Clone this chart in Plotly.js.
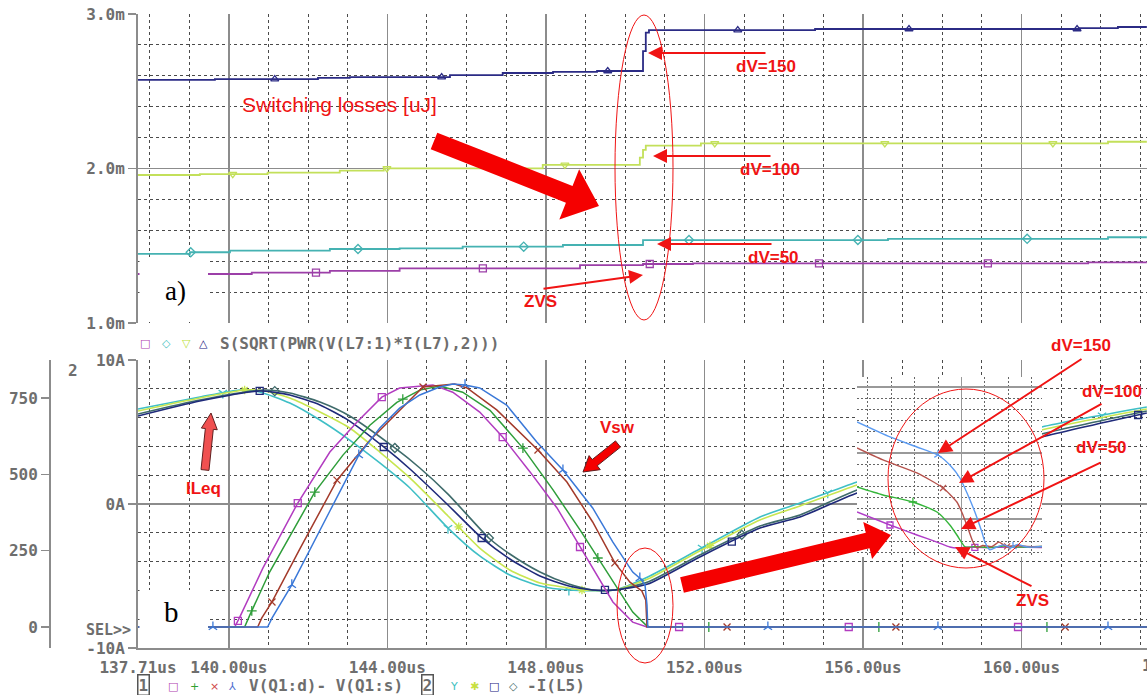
<!DOCTYPE html>
<html><head><meta charset="utf-8">
<script src="https://cdn.plot.ly/plotly-3.0.1.min.js"></script>
<style>html,body{margin:0;padding:0;background:#fff}#chart{width:1147px;height:695px}</style>
</head><body><div id="chart"></div>
<script>
// ---------------- DATA ----------------
// shared time axis (us)
const xTickVals = [137.71, 140, 144, 148, 152, 156, 160];
const topYTicks = [1, 2, 3];                 // mJ
const curTicks = [-10, 0, 10];               // A
const voltTicks = [0, 250, 500, 750];        // V

// a) switching losses, step traces S(SQRT(PWR(V(L7:1)*I(L7),2)))
const lossNavyT = [137.71,139.65,142.25,143.05,145.58,146.91,148.18,149.29,150.45,150.52,150.60,154.79,161.47,162.43,163.16];
const lossNavyV = [2.573,2.579,2.586,2.592,2.605,2.618,2.625,2.631,2.76,2.88,2.896,2.903,2.909,2.916,2.916];
const lossYelT  = [137.71,139.27,140.98,142.80,143.91,147.92,150.37,150.45,150.52,151.91,162.18,163.16];
const lossYelV  = [1.958,1.964,1.973,1.986,2.001,2.023,2.07,2.12,2.148,2.163,2.173,2.173];
const lossTealT = [137.71,139.02,140.03,142.55,144.31,145.90,148.43,150.45,156.63,162.18,163.16];
const lossTealV = [1.447,1.458,1.468,1.479,1.483,1.494,1.505,1.537,1.545,1.555,1.555];
const lossPurT  = [137.71,140.58,142.55,144.31,148.86,150.45,151.71,161.68,163.16];
const lossPurV  = [1.317,1.326,1.338,1.354,1.375,1.382,1.386,1.393,1.393];
// marker times
const mkNavyT = [141.16,145.37,149.56,152.84,157.16,161.40];
const mkYelT  = [140.10,143.99,148.48,152.26,156.55,160.79];
const mkTealT = [139.04,143.26,147.44,151.61,155.87,160.14];
const mkPurT  = [142.20,146.41,150.62,154.89,159.15];

// b) -I(L5) currents (A)
const curCyanT = [137.71,139.27,140.28,140.78,141.54,142.30,143.05,143.81,144.57,145.53,146.33,147.09,147.85,148.58,149.74,150.57,151.88,153.40,154.41,155.85,158.19,160.51,163.16];
const curCyanI = [6.60,7.43,7.92,7.78,7.01,5.83,4.44,2.85,1.11,-1.67,-3.61,-4.93,-5.69,-5.97,-5.97,-5.07,-3.13,-0.90,0.07,1.53,3.40,5.35,6.74];
const curYelT  = [137.71,139.27,140.40,140.91,141.54,142.30,143.05,143.81,144.57,145.53,146.33,147.09,147.85,148.58,148.91,149.74,150.57,151.88,153.40,154.41,155.85,158.19,160.51,163.16];
const curYelI  = [6.46,7.36,7.92,7.85,7.36,6.39,5.28,3.61,1.81,-0.83,-3.06,-4.58,-5.49,-5.83,-5.97,-5.97,-5.21,-3.26,-1.11,-0.14,1.32,3.19,5.14,6.60];
const curNavyT = [137.71,139.27,140.78,141.54,142.30,143.05,143.91,144.57,145.53,146.38,147.09,147.85,148.58,149.18,149.74,150.57,151.88,153.40,154.41,155.85,158.19,160.51,163.16];
const curNavyI = [6.11,7.15,7.85,7.57,6.88,5.76,3.96,2.43,-0.07,-2.36,-3.82,-5.00,-5.69,-5.97,-5.97,-5.56,-3.68,-1.67,-0.90,0.76,2.71,4.65,6.32];
const curSlateT = [137.71,139.27,140.91,141.54,142.30,143.05,144.19,144.82,145.53,146.56,147.09,147.85,148.58,149.18,149.74,150.57,151.88,153.40,154.41,155.85,158.19,160.51,163.16];
const curSlateI = [6.25,7.22,7.92,7.71,7.08,6.11,3.89,2.50,0.69,-2.36,-3.47,-4.72,-5.56,-5.97,-5.97,-5.42,-3.54,-1.53,-0.76,0.97,2.92,4.86,6.46];
const mkCyanT  = [139.85,145.53,148.58,151.94,155.11,162.03];
const mkYelCT  = [140.40,145.80,148.91,152.14];
const mkNavyCT = [140.78,143.91,146.38,149.49,152.69,162.94];
const mkSlateT = [141.16,144.19,146.56,152.94];

// b) V(Q1:d)-V(Q1:s) switch voltages (V)
const vPurT = [137.71,140.15,140.28,140.86,141.74,142.55,143.23,143.86,144.31,145.15,145.65,146.33,146.91,147.60,148.28,148.86,149.29,149.69,150.19,150.55,163.16];
const vPurV = [0,0,33,193,406,573,671,753,783,793,769,704,622,508,390,262,170,82,16,0,0];
const vGrnT = [137.71,140.40,140.53,141.03,142.17,142.88,143.56,144.24,144.82,145.32,145.90,146.59,147.42,148.18,148.86,149.31,149.79,150.19,150.55,150.62,163.16];
const vGrnV = [0,0,39,180,442,563,661,736,776,789,769,710,586,449,318,226,128,49,3,0,0];
const vRedT = [137.71,140.73,140.83,141.09,141.79,142.73,143.56,144.31,144.90,145.70,146.01,146.76,147.80,148.53,149.18,149.74,150.12,150.42,150.52,150.55,163.16];
const vRedV = [0,0,29,82,255,481,612,711,786,796,783,711,580,475,344,210,147,118,88,0,0];
const vBluT = [137.71,140.98,141.09,141.59,142.55,143.28,143.81,144.31,144.82,145.32,145.65,145.96,146.33,147.01,147.77,148.43,149.18,149.69,150.19,150.37,150.50,150.55,150.57,163.16];
const vBluV = [0,0,29,138,380,563,652,717,760,786,796,793,783,727,606,514,390,278,180,160,138,72,0,0];
const mkPurVT = [140.23,141.74,143.86,146.91,148.86,151.36,155.64,159.91];
const mkGrnVT = [140.58,142.17,144.39,147.42,149.31,152.11,156.40,160.64];
const mkRedVT = [141.09,142.73,144.90,147.80,149.74,152.57,156.83,161.10];
const mkBluVT = [139.60,141.59,143.28,145.96,148.43,150.37,153.60,157.89,162.18];

// inset: magnified turn-off (arbitrary inset units)
const insBluX = [-0.47,0.94,2.09,2.99,3.50,3.93,4.27,4.57,4.87,5.00,5.21,5.51,5.80,6.10,6.40,6.70,7.00,7.44];
const insBluY = [11.82,10.46,9.55,8.82,7.91,6.73,5.19,3.64,1.82,0.91,0.20,0.46,0.65,0.40,0.70,0.50,0.45,0.50];
const insRedX = [-0.47,0.64,2.09,3.21,3.80,4.06,4.27,4.49,4.66,4.90,5.30,5.60,5.90,6.30,6.80,7.44];
const insRedY = [9.46,8.37,7.19,5.82,4.55,3.37,2.19,0.91,0.37,0.60,0.50,0.90,0.50,0.60,0.50,0.50];
const insGrnX = [-0.47,0.64,1.92,2.95,3.50,3.80,4.02,4.15,4.60,5.20,5.80,6.40,7.44];
const insGrnY = [5.91,5.19,4.55,3.64,2.46,1.55,0.82,0.46,0.50,0.40,0.55,0.45,0.50];
const insPurX = [-0.47,0.94,2.09,2.95,3.50,3.80,4.30,5.00,6.00,7.44];
const insPurY = [3.64,2.46,1.55,0.91,0.46,0.37,0.45,0.40,0.45,0.40];
const insMkBlu = [2.99, 6.2], insMkRed = [3.21, 5.95], insMkGrn = [1.92], insMkPur = [0.94, 4.57];

// ---------------- LAYOUT GEOMETRY ----------------
const W = 1147, H = 695, PT = 14, PB = 648, PH = PB - PT;
const XL = 138;
const T0 = 137.71, T1 = 163.164;
const VR = [-68.8, 874.6];
const px = v => v / W;
const py = v => (PB - v) / PH;
const tOfPx = p => T0 + (p - XL) * (T1 - T0) / (W - XL);
const vOfPy = p => VR[0] + (PB - p) * (VR[1] - VR[0]) / 288;

function stepAt(ts, vs, t) { let k = 0; for (let i = 0; i < ts.length; i++) if (ts[i] <= t) k = i; return vs[k]; }
function lerp(ts, vs, t) {
  for (let i = 0; i < ts.length - 1; i++) if (t >= ts[i] && t <= ts[i + 1]) {
    const f = (t - ts[i]) / (ts[i + 1] - ts[i]); return vs[i] + f * (vs[i + 1] - vs[i]); }
  return vs[vs.length - 1];
}

const GRID = '#8c8c8c', DASH = '#4a4a4a', TXT = '#6e6e6e';
const mono = {family: 'DejaVu Sans Mono, monospace', size: 16, color: TXT, weight: 'bold'};

const traces = [];
function line(x, y, color, xa, ya, shape, w) {
  traces.push({x, y, xaxis: xa, yaxis: ya, mode: 'lines', type: 'scatter', hoverinfo: 'skip',
    line: {color, width: w || 1.5, shape: shape || 'linear', smoothing: 0.6}});
}
function marks(x, y, color, sym, xa, ya, size) {
  traces.push({x, y, xaxis: xa, yaxis: ya, mode: 'markers', type: 'scatter', hoverinfo: 'skip',
    marker: {symbol: sym, size: size || 7, color, line: {color, width: 1.3}}});
}

// top plot
[[lossPurT, lossPurV, '#9c3fa8', mkPurT, 'square-open'],
 [lossTealT, lossTealV, '#45b2b2', mkTealT, 'diamond-open'],
 [lossYelT, lossYelV, '#c3e05a', mkYelT, 'triangle-down-open'],
 [lossNavyT, lossNavyV, '#2b2b85', mkNavyT, 'triangle-up-open']].forEach(s => {
  line(s[0], s[1], s[2], 'x2', 'y2', 'hv', 1.8);
  marks(s[3], s[3].map(t => stepAt(s[0], s[1], t)), s[2], s[4], 'x2', 'y2', 7);
});

// bottom currents
[[curCyanT, curCyanI, '#3fbfc6', mkCyanT, 'y-down-open'],
 [curYelT, curYelI, '#c8e650', mkYelCT, 'asterisk-open'],
 [curSlateT, curSlateI, '#3f6b6b', mkSlateT, 'diamond-open'],
 [curNavyT, curNavyI, '#1f2a7a', mkNavyCT, 'square-open']].forEach(s => {
  line(s[0], s[1], s[2], 'x', 'y', 'spline', 1.6);
  marks(s[3], s[3].map(t => lerp(s[0], s[1], t)), s[2], s[4], 'x', 'y', 7);
});

// bottom voltages
[[vPurT, vPurV, '#b23cc0', mkPurVT, 'square-open'],
 [vGrnT, vGrnV, '#2f9e3a', mkGrnVT, 'cross-thin-open'],
 [vRedT, vRedV, '#a33a2a', mkRedVT, 'x-thin-open'],
 [vBluT, vBluV, '#3a78d8', mkBluVT, 'y-up-open']].forEach(s => {
  line(s[0], s[1], s[2], 'x', 'y3', 'linear', 1.5);
  marks(s[3], s[3].map(t => lerp(s[0], s[1], t)), s[2], s[4], 'x', 'y3', 7);
});

// white backing of the pasted inset (covers main traces)
const ix0 = tOfPx(857), ix1 = tOfPx(1042), iy0 = vOfPy(557), iy1 = vOfPy(377);
traces.push({x: [ix0, ix1, ix1, ix0, ix0], y: [iy0, iy0, iy1, iy1, iy0], xaxis: 'x', yaxis: 'y3',
  mode: 'lines', fill: 'toself', fillcolor: '#ffffff', line: {width: 0, color: '#fff'}, hoverinfo: 'skip'});

// inset curves
[[insPurX, insPurY, '#b03cc8', insMkPur, 'square-open'],
 [insGrnX, insGrnY, '#35b53a', insMkGrn, 'cross-thin-open'],
 [insRedX, insRedY, '#b5524c', insMkRed, 'x-thin-open'],
 [insBluX, insBluY, '#5b9bf2', insMkBlu, 'y-up-open']].forEach(s => {
  line(s[0], s[1], s[2], 'x3', 'y4', 'spline', 1.4);
  marks(s[3], s[3].map(t => lerp(s[0], s[1], t)), s[2], s[4], 'x3', 'y4', 6);
});

// ---------------- AXES ----------------
const minorX = {tickmode: 'linear', tick0: 0, dtick: 1, showgrid: true, gridcolor: DASH, griddash: '3px,3px', gridwidth: 1, ticks: ''};
const xCommon = {domain: [XL / W, 1], range: [T0, T1], tickmode: 'array', tickvals: xTickVals,
  ticktext: xTickVals.map(v => v.toFixed(2) + 'us'), showgrid: true, gridcolor: GRID, gridwidth: 1.5,
  minor: minorX, zeroline: false, ticks: '', tickfont: mono, fixedrange: true};
const yCommon = {ticks: 'outside', ticklen: 8, tickwidth: 1.5, tickcolor: GRID, showline: true, linecolor: GRID,
  linewidth: 2, showgrid: true, gridcolor: GRID, gridwidth: 1.5, zeroline: false, tickfont: mono, fixedrange: true};

const layout = {
  width: W, height: H, margin: {l: 0, r: 0, t: PT, b: H - PB, pad: 0, autoexpand: false},
  paper_bgcolor: '#fff', plot_bgcolor: '#fff', showlegend: false,
  xaxis: Object.assign({}, xCommon, {anchor: 'y', showline: true, linecolor: GRID, linewidth: 2, ticklabelstandoff: 4}),
  xaxis2: Object.assign({}, xCommon, {anchor: 'y2', showticklabels: false, showline: false}),
  yaxis2: Object.assign({}, yCommon, {domain: [(PB - 323) / PH, 1], anchor: 'x2', range: [1, 3], tickmode: 'array',
    tickvals: topYTicks, ticktext: topYTicks.map(v => v.toFixed(1) + 'm'),
    minor: {tickmode: 'linear', tick0: 0, dtick: 0.2, showgrid: true, gridcolor: DASH, griddash: '3px,3px', gridwidth: 1, ticks: ''}}),
  yaxis: Object.assign({}, yCommon, {domain: [0, 288 / PH], anchor: 'x', range: [-10, 10], tickmode: 'array',
    tickvals: curTicks, ticktext: curTicks.map(v => v + 'A'),
    minor: {tickmode: 'linear', tick0: 0, dtick: 2, showgrid: true, gridcolor: DASH, griddash: '3px,3px', gridwidth: 1, ticks: ''}}),
  yaxis3: {overlaying: 'y', anchor: 'free', position: 50 / W, side: 'left', range: VR, tickmode: 'array',
    tickvals: voltTicks, showgrid: false, showline: true, linecolor: GRID, linewidth: 2, ticks: 'outside', ticklen: 8,
    tickwidth: 1.5, tickcolor: GRID, zeroline: false, tickfont: mono, fixedrange: true},
  xaxis3: {domain: [857 / W, 1042 / W], anchor: 'y4', range: [-0.47, 7.44], tickmode: 'array', tickvals: [4],
    showticklabels: false, showgrid: true, gridcolor: '#999', gridwidth: 1.5, zeroline: false, showline: false, ticks: '',
    minor: {tickmode: 'linear', tick0: 0, dtick: 1, showgrid: true, gridcolor: '#666', griddash: '2px,2px', gridwidth: 1, ticks: ''}},
  yaxis4: {domain: [py(557), py(377)], anchor: 'x3', range: [-0.45, 15.91], tickmode: 'array', tickvals: [3, 9, 15],
    showticklabels: false, showgrid: true, gridcolor: '#999', gridwidth: 1.5, zeroline: false, showline: false, ticks: '',
    minor: {tickmode: 'linear', tick0: 0, dtick: 1, showgrid: true, gridcolor: '#666', griddash: '2px,2px', gridwidth: 1, ticks: ''}},
  annotations: [], shapes: []
};

// ---------------- ANNOTATIONS ----------------
const A = layout.annotations, S = layout.shapes;
function txt(t, x, y, font, o) {
  A.push(Object.assign({text: t, x: px(x), y: py(y), xref: 'paper', yref: 'paper', showarrow: false,
    xanchor: 'center', yanchor: 'middle', font: font}, o || {}));
}
const RED = '#f01414';
const redB = {family: 'Liberation Sans, Arial, sans-serif', size: 17, color: RED, weight: 'bold'};

txt('2', 73, 370, mono);
txt('SEL&gt;&gt;', 108, 630, Object.assign({}, mono, {size: 15}));
txt('164.00us', 1180, 665, mono);

// legends
[['□', 145, 343, '#b040b0'], ['◇', 166, 343, '#40c0c0'], ['▽', 186, 343, '#bedf3c'], ['△', 203, 343, '#202080']]
  .forEach(s => txt(s[0], s[1], s[2], {family: 'DejaVu Sans', size: 11, color: s[3]}));
txt('S(SQRT(PWR(V(L7:1)*I(L7),2)))', 218, 343, mono, {xanchor: 'left'});
txt('1', 143, 685, mono, {bordercolor: '#555', borderwidth: 1.5, borderpad: 0});
[['□', 173, 686, '#b040b0'], ['+', 194, 686, '#30a030'], ['×', 214, 686, '#d04848'], ['⅄', 232, 686, '#5070d0'],
 ['Y', 454, 686, '#40c0c0'], ['✱', 474, 686, '#c8e040'], ['□', 494, 686, '#202080'], ['◇', 513, 686, '#406868']]
  .forEach(s => txt(s[0], s[1], s[2], {family: 'DejaVu Sans', size: 11, color: s[3]}));
txt('V(Q1:d)- V(Q1:s)', 247, 685, mono, {xanchor: 'left'});
txt('2', 427, 685, mono, {bordercolor: '#555', borderwidth: 1.5, borderpad: 0});
txt('-I(L5)', 525, 685, mono, {xanchor: 'left'});

// red labels
txt('Switching losses [uJ]', 240, 104, {family: 'Liberation Sans, Arial, sans-serif', size: 21, color: RED}, {xanchor: 'left'});
txt('dV=150', 766, 66, redB);
txt('dV=100', 770, 169, redB);
txt('dV=50', 773, 257, redB);
txt('ZVS', 540, 302, redB);
txt('ILeq', 203, 488, redB);
txt('Vsw', 617, 428, redB);
txt('dV=150', 1081, 345, redB);
txt('dV=100', 1112, 391, redB);
txt('dV=50', 1101, 447, redB);
txt('ZVS', 1032, 600, redB);
const serif = {family: 'Liberation Serif, Times New Roman, serif', size: 27, color: '#000'};

// thin arrows
function arrow(hx, hy, tx, ty) {
  A.push({x: px(hx), y: py(hy), xref: 'paper', yref: 'paper', ax: tx - hx, ay: ty - hy, axref: 'pixel', ayref: 'pixel',
    text: '', showarrow: true, arrowhead: 2, arrowsize: 1.4, arrowwidth: 2, arrowcolor: RED, standoff: 0});
}
arrow(648, 53, 767, 53); arrow(653, 156, 772, 156); arrow(657, 244, 773, 244); arrow(643, 275, 542, 289);
arrow(938, 453, 1083, 358); arrow(959, 483, 1103, 403); arrow(961, 529, 1102, 462); arrow(955, 547, 1033, 587);

// block arrows
function block(tx, ty, hx, hy, sw, hw, hl, fill, outline) {
  const dx = hx - tx, dy = hy - ty, L = Math.hypot(dx, dy), ux = dx / L, uy = dy / L, nx = -uy, ny = ux;
  const bx = hx - ux * hl, by = hy - uy * hl;
  const pts = [[tx + nx * sw, ty + ny * sw], [bx + nx * sw, by + ny * sw], [bx + nx * hw, by + ny * hw], [hx, hy],
    [bx - nx * hw, by - ny * hw], [bx - nx * sw, by - ny * sw], [tx - nx * sw, ty - ny * sw]];
  S.push({type: 'path', xref: 'paper', yref: 'paper', layer: 'above', fillcolor: fill,
    line: {color: outline || fill, width: outline ? 1 : 0},
    path: 'M' + pts.map(p => px(p[0]).toFixed(5) + ',' + py(p[1]).toFixed(5)).join('L') + 'Z'});
}
block(434, 141, 599, 206, 9, 27, 32, '#f50000');
block(682, 585, 891, 535, 8, 19, 24, '#f50000');
block(205, 470, 211, 413, 4, 8, 16, '#f05050', '#602020');
block(618, 444, 583, 472, 4, 9, 15, '#f50000', '#602020');

// ellipses
function oval(x0, y0, x1, y1) {
  S.push({type: 'circle', xref: 'paper', yref: 'paper', layer: 'above', x0: px(x0), x1: px(x1), y0: py(y1), y1: py(y0),
    line: {color: RED, width: 1}, fillcolor: 'rgba(0,0,0,0)'});
}
oval(615, 15, 673, 320); oval(617, 548, 673, 663); oval(888, 389, 1044, 568);

// label boxes a) and b
function wbox(x0, y0, x1, y1) {
  S.push({type: 'rect', xref: 'paper', yref: 'paper', layer: 'above', x0: px(x0), x1: px(x1), y0: py(y1), y1: py(y0),
    fillcolor: '#fff', line: {width: 0}});
}
wbox(139.5, 260, 208, 322); wbox(139.5, 590, 208, 647);
txt('a)', 175, 291, serif);
txt('b', 171, 612, Object.assign({}, serif, {size: 29}));

Plotly.newPlot('chart', traces, layout, {staticPlot: true, displayModeBar: false});
</script></body></html>
